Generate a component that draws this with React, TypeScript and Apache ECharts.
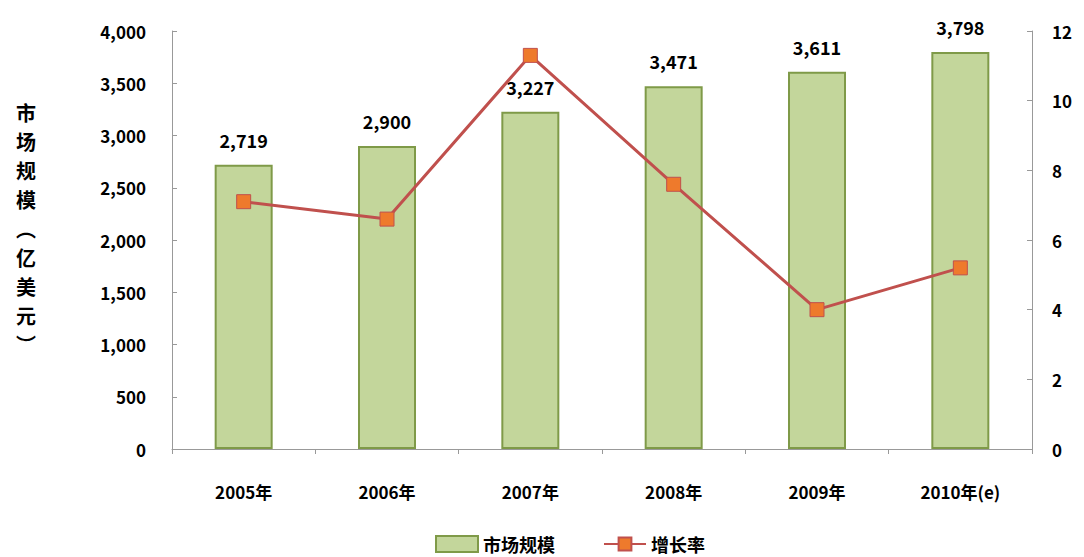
import React, { useEffect, useRef } from "react";
import * as echarts from "echarts";

const categories = ["2005年", "2006年", "2007年", "2008年", "2009年", "2010年(e)"];
const marketSize = [2719, 2900, 3227, 3471, 3611, 3798];
const growthRate = [7.1, 6.6, 11.3, 7.6, 4.0, 5.2];
const leftTicks = { min: 0, max: 4000, interval: 500 };
const rightTicks = { min: 0, max: 12, interval: 2 };

const FONT = "'Noto Sans CJK SC', 'Noto Sans', sans-serif";

export default function App() {
  const ref = useRef<HTMLDivElement>(null);
  useEffect(() => {
    const chart = echarts.init(ref.current!, null, { renderer: "svg" });
    const fmt = (v: number) => v.toLocaleString("en-US");
    chart.setOption({
      animation: false,
      textStyle: { fontFamily: FONT },
      grid: { left: 164, right: 44, top: 23, bottom: 108 },
      legend: {
        top: 522,
        left: 422,
        itemGap: 48,
        itemWidth: 42,
        itemHeight: 16,
        textStyle: { fontSize: 18, fontWeight: "bold", color: "#000", fontFamily: FONT },
        data: [
          { name: "市场规模", icon: "rect" },
          { name: "增长率" },
        ],
      },
      graphic: [
        {
          type: "text",
          left: 8,
          top: 90,
          style: {
            text: ["市", "场", "规", "模", "︵", "亿", "美", "元", "︶"].join("\n"),
            font: `bold 20px ${FONT}`,
            fill: "#000",
            lineHeight: 29,
          },
        },
      ],
      xAxis: {
        type: "category",
        data: categories,
        axisLine: { lineStyle: { color: "#999" } },
        axisTick: { show: true, alignWithLabel: false, lineStyle: { color: "#999" } },
        axisLabel: { color: "#000", fontWeight: "bold", fontSize: 17, margin: 34, fontFamily: FONT },
      },
      yAxis: [
        {
          type: "value",
          min: leftTicks.min,
          max: leftTicks.max,
          interval: leftTicks.interval,
          axisLine: { show: true, lineStyle: { color: "#999" } },
          axisTick: { show: true, inside: true, length: 5, lineStyle: { color: "#999" } },
          splitLine: { show: false },
          axisLabel: {
            color: "#000",
            fontWeight: "bold",
            fontSize: 17,
            margin: 26,
            fontFamily: FONT,
            formatter: (v: number) => fmt(v),
          },
        },
        {
          type: "value",
          min: rightTicks.min,
          max: rightTicks.max,
          interval: rightTicks.interval,
          axisLine: { show: true, lineStyle: { color: "#999" } },
          axisTick: { show: true, inside: true, length: 5, lineStyle: { color: "#999" } },
          splitLine: { show: false },
          axisLabel: { color: "#000", fontWeight: "bold", fontSize: 17, margin: 20, fontFamily: FONT },
        },
      ],
      series: [
        {
          name: "市场规模",
          type: "bar",
          data: marketSize,
          barWidth: 58,
          itemStyle: { color: "#c3d69b", borderColor: "#7f9a48", borderWidth: 2 },
          label: {
            show: true,
            position: "top",
            distance: 16,
            color: "#000",
            fontWeight: "bold",
            fontSize: 18,
            fontFamily: FONT,
            formatter: (p: any) => fmt(p.value),
          },
        },
        {
          name: "增长率",
          type: "line",
          yAxisIndex: 1,
          data: growthRate,
          symbol: "rect",
          symbolSize: 14,
          lineStyle: { color: "#c0504d", width: 3 },
          itemStyle: { color: "#ee7a2c", borderColor: "#c0504d", borderWidth: 1 },
        },
      ],
    });
    return () => chart.dispose();
  }, []);
  return <div ref={ref} style={{ width: 1068, height: 549 }} />;
}
